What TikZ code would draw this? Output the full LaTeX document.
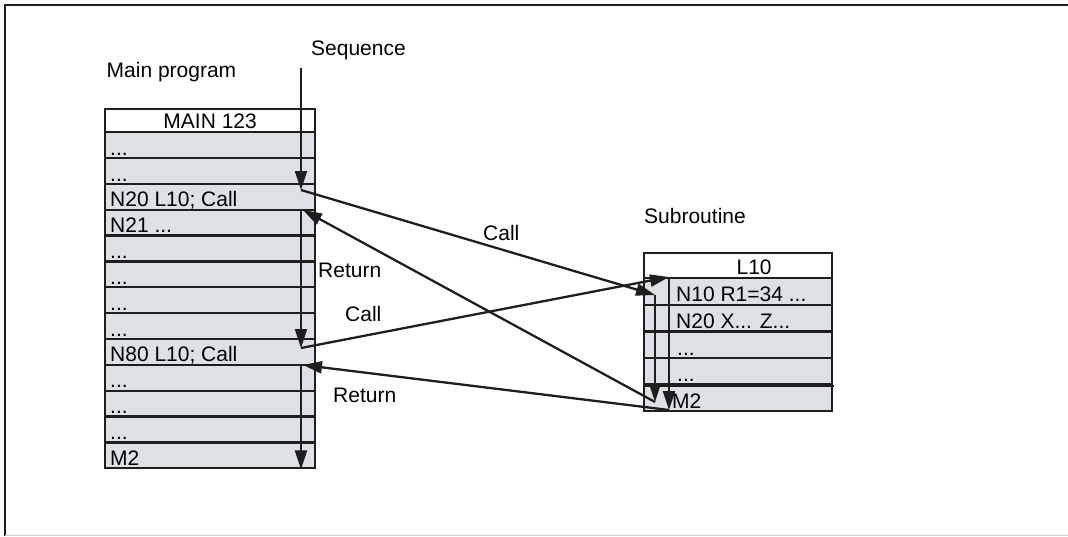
\documentclass[tikz,border=0pt]{standalone}
\usepackage{fontspec}
\setmainfont{Liberation Sans}
\usetikzlibrary{arrows.meta,positioning}
\definecolor{RowGray}  {RGB}{221,225,229}
\definecolor{LineDark} {RGB}{30,30,30}
\definecolor{FrameGray}{RGB}{205,205,205}
\newcommand{\dotrow}{...}

\begin{document}
\begin{tikzpicture}[x=1pt,y=-1pt,every node/.style={font=\fontsize{21}{25}\selectfont},
  cell/.style={draw=LineDark,line width=2.3pt,fill=RowGray,anchor=north west,inner sep=0pt},
  mrow/.style={cell,minimum width=210pt,minimum height=25.85pt},
  srow/.style={cell,minimum width=188pt,minimum height=26.6pt},
  head/.style={cell,fill=white,text height=17pt,text depth=2pt},
  txt/.style={anchor=base west,inner sep=0pt},
  flow/.style={draw=LineDark,line width=2.3pt,-{Triangle[length=19pt,width=12pt]}}]
  \useasboundingbox (0,0) rectangle (1068,536);
  % frame
  \draw[LineDark,line width=2pt] (5,536) -- (5,5) -- (1068,5);
  \draw[FrameGray,line width=1pt] (5,535) -- (1068,535);

  % main program
  \node[txt] (mainlbl) at (106.5,77) {Main program};
  \node[txt] (seqlbl) at (311,55) {Sequence};
  \node[head,minimum width=210pt,minimum height=23pt] (mhead) at (104,108) {MAIN 123};
  \foreach \t [count=\i] in {\dotrow,\dotrow,N20 L10; Call,N21 \dotrow,\dotrow,\dotrow,\dotrow,
      \dotrow,N80 L10; Call,\dotrow,\dotrow,\dotrow,M2}{
    \node[mrow] (m\i) at (104,{131+(\i-1)*25.85}) {};
    \node[txt] (mt\i) at ([xshift=6pt,yshift=4pt]m\i.south west) {\t};
  }

  % subroutine
  \node[txt] (sublbl) at (644,223) {Subroutine};
  \node[head,minimum width=188pt,minimum height=25pt] (shead) at (643,252) {};
  \node[anchor=base,inner sep=0pt] (l10) at ([xshift=16pt,yshift=5pt]shead.south) {L10};
  \foreach \t/\dx [count=\i] in {N10 R1=34 \dotrow/33,N20 X\dotrow{} Z\dotrow/33,
      \dotrow/34,\dotrow/34,M2/29}{
    \node[srow] (s\i) at (643,{277+(\i-1)*26.6}) {};
    \node[txt] (st\i) at ([xshift=\dx pt,yshift=4pt]s\i.south west) {\t};
  }
  \draw[LineDark,line width=2.3pt] (s4.south west) -- ++(191,0);

  % flow
  \coordinate (seqtop) at (301,68);
  \coordinate (call1) at (301,190);
  \coordinate (ret1) at (303,210);
  \coordinate (call2) at (301,348);
  \coordinate (ret2) at (303,365);
  \coordinate (in1) at (655,295);
  \coordinate (out1) at (655,402);
  \coordinate (in2) at (669,277);
  \coordinate (out2) at (669,410);

  \draw[flow] (seqtop) -- (call1);
  \draw[flow] (seqtop |- m4.north) -- (call2);
  \draw[flow] (seqtop |- m10.north) -- (seqtop |- m13.south);
  \draw[flow] (call1) -- (in1);
  \draw[flow] (in1) -- (out1);
  \draw[flow] (out1) -- (ret1);
  \draw[flow] (call2) -- (in2);
  \draw[flow] (in2) -- (out2);
  \draw[flow] (out2) -- (ret2);

  \node[txt] (calla) at (483,240) {Call};
  \node[txt] (retna) at (318,277) {Return};
  \node[txt] (callb) at (345,321) {Call};
  \node[txt] (retnb) at (333,402) {Return};
\end{tikzpicture}
\end{document}
